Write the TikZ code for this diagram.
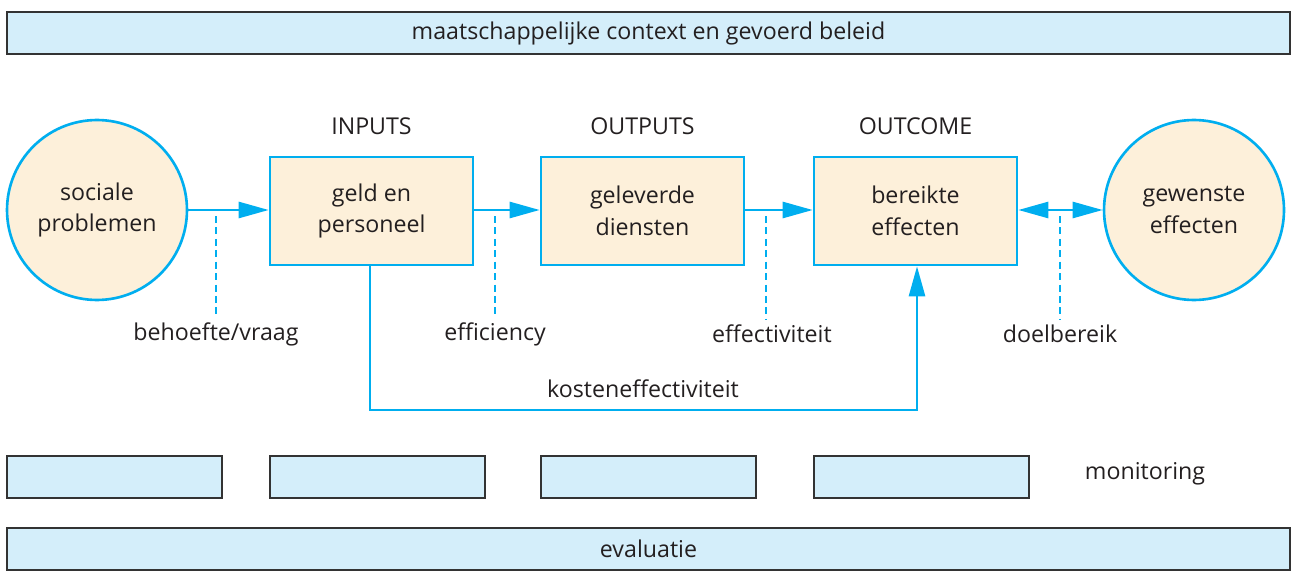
\documentclass[tikz,border=0pt]{standalone}
\usepackage{fontspec}
\setmainfont{Open Sans}
\usetikzlibrary{arrows.meta}
\usetikzlibrary{positioning}
\definecolor{lineblue}{RGB}{0,174,239}
\definecolor{barblue}{RGB}{212,238,250}
\definecolor{boxbeige}{RGB}{253,240,218}
\definecolor{textgrey}{RGB}{35,31,32}
\tikzstyle{bar}=[draw=black!80,fill=barblue,line width=1.2pt,minimum height=0.84cm,inner sep=0]
\tikzstyle{stage}=[draw=lineblue,fill=boxbeige,line width=1.5pt,minimum width=4.06cm,minimum height=2.16cm,align=center]
\tikzstyle{goal}=[draw=lineblue,fill=boxbeige,line width=1.5pt,circle,minimum size=3.6cm,align=center]
\tikzstyle{tip}=[>={Triangle[length=0.6cm,width=0.32cm]}]
\tikzstyle{flow}=[tip,every edge/.style={draw=lineblue,line width=1.5pt}]
\tikzstyle{measure}=[draw=lineblue,line width=1.5pt,dash pattern=on 4pt off 2.5pt]

\begin{document}
\begin{tikzpicture}[x=0.02cm,y=-0.02cm,font=\fontsize{13.2}{18}\selectfont,text=textgrey]
\path[use as bounding box] (0,0) rectangle (1293,574);

\node[bar,minimum width=25.66cm] (context) at (648.5,33) {maatschappelijke context en gevoerd beleid};

\node[goal] (problems) at (97,210) {sociale\\problemen};
\node[stage] (inputs) at (371.5,211) {geld en\\personeel};
\node[stage] (outputs) at (642.5,211) {geleverde\\diensten};
\node[stage] (outcome) at (915.5,211) {bereikte\\effecten};
\node[goal] (wished) at (1194,210) {gewenste\\effecten};

\node[above=0.3cm of inputs] (inlbl) {INPUTS};
\node[above=0.3cm of outputs] (outlbl) {OUTPUTS};
\node[above=0.3cm of outcome] (outclbl) {OUTCOME};

\path[flow]
(problems.east |- 0,210) edge[->] (inputs.west |- 0,210)
(inputs.east |- 0,210) edge[->] (outputs.west |- 0,210)
(outputs.east |- 0,210) edge[->] (outcome.west |- 0,210)
(outcome.east |- 0,210) edge[<->] (wished.west |- 0,210)
;

\node (need) at (216,334) {behoefte/vraag};
\node (effic) at (495,334) {efficiency};
\node (effect) at (772,334) {effectiviteit};
\node (reach) at (1060,334) {doelbereik};

\coordinate (needtop) at (216,216);
\coordinate (effictop) at (495,216);
\coordinate (effecttop) at (766,216);
\coordinate (reachtop) at (1060,216);
\draw[measure] (needtop) -- (needtop |- need.north);
\draw[measure] (effictop) -- (effictop |- effic.north);
\draw[measure] (effecttop) -- (effecttop |- effect.north);
\draw[measure] (reachtop) -- (reachtop |- reach.north);

\coordinate (costleft) at (370,410);
\draw[tip,draw=lineblue,line width=1.5pt,->]
(inputs.south -| costleft) -- (costleft) -| ([xshift=0.03cm]outcome.south);
\node (cost) at (643,389) {kosteneffectiviteit};

\foreach \x/\n in {114.5/1,377.5/2,648.5/3,921.5/4}
  \node[bar,minimum width=4.3cm] (mon\n) at (\x,477) {};
\node (monlbl) at (1145,474) {monitoring};

\node[bar,minimum width=25.66cm] (eval) at (648.5,549) {evaluatie};
\end{tikzpicture}
\end{document}
